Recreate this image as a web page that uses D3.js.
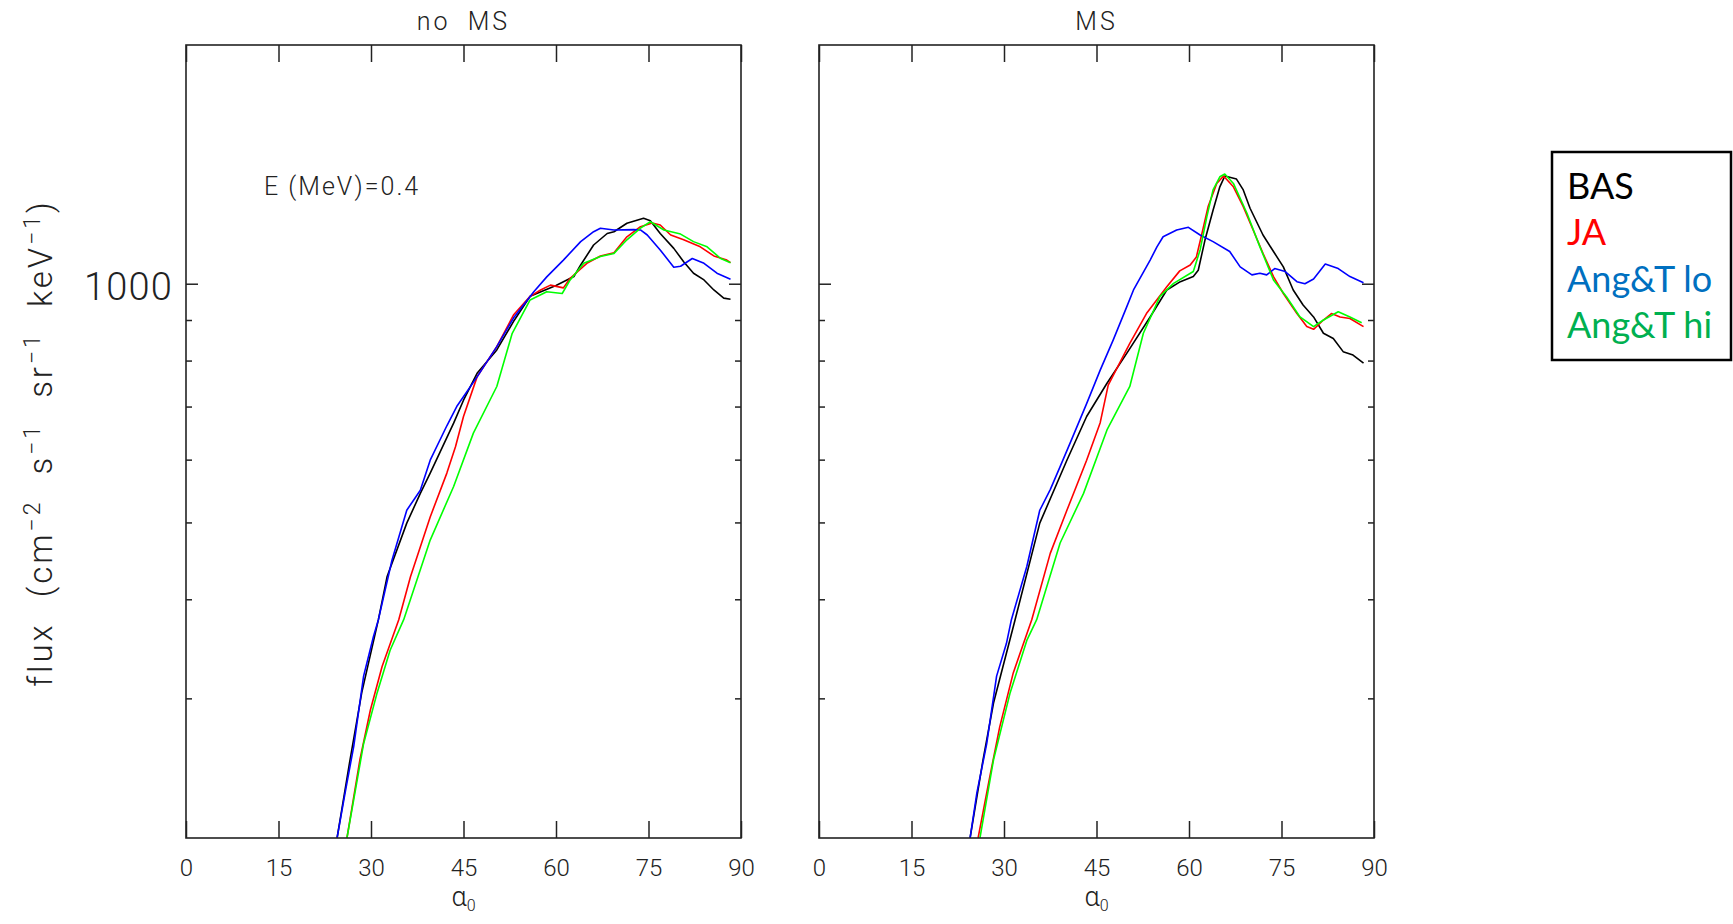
<!DOCTYPE html>
<html>
<head>
<meta charset="utf-8">
<script src="https://cdn.jsdelivr.net/npm/d3@7"></script>
<style>
  body { margin: 0; background: #fff; }
  svg { display: block; }
</style>
</head>
<body>
<div id="chart"></div>
<script>
// [pitch angle alpha0 (deg), flux], E = 0.4 MeV
const noMsBAS = [[24.5,200],[26.6,251],[28.5,305],[31.2,377],[32.6,427],[35.8,499],[38.0,544],[39.6,577],[43.4,667],[45.0,713],[47.2,771],[50.4,825],[53.1,896],[55.8,964],[60.0,995],[62.9,1021],[64.0,1056],[66.1,1119],[68.3,1157],[69.4,1163],[71.5,1192],[74.2,1209],[75.3,1201],[76.9,1157],[79.1,1108],[80.7,1066],[82.3,1031],[84.0,1011],[85.6,982],[87.2,959],[88.3,956]];
const noMsJA = [[26.1,200],[28.2,251],[29.9,290],[31.8,329],[34.5,377],[36.4,427],[39.6,508],[42.3,577],[43.7,623],[45.0,680],[47.2,763],[50.4,833],[53.1,913],[55.8,964],[57.5,982],[59.1,996],[61.2,988],[62.3,1016],[65.0,1061],[67.2,1084],[69.4,1094],[71.5,1146],[73.7,1180],[75.6,1193],[76.9,1186],[78.6,1152],[80.7,1136],[83.4,1113],[85.6,1084],[87.7,1071],[88.3,1063]];
const noMsLo = [[24.5,200],[25.8,228],[27.2,261],[28.8,320],[30.4,359],[31.2,377],[33.4,448],[35.8,518],[38.0,549],[39.6,599],[42.3,662],[43.9,700],[47.2,763],[50.4,833],[53.1,905],[56.4,977],[58.5,1020],[61.2,1071],[64.0,1130],[66.1,1163],[67.2,1175],[69.4,1169],[72.6,1170],[73.7,1169],[74.8,1152],[76.9,1103],[79.1,1049],[80.2,1052],[82.1,1076],[84.0,1061],[86.1,1031],[88.3,1013]];
const noMsHi = [[26.1,200],[28.8,263],[31.0,305],[33.1,345],[35.3,377],[39.6,475],[43.4,555],[46.6,648],[50.4,742],[52.9,866],[55.8,954],[58.5,977],[61.0,972],[62.3,1011],[64.5,1061],[67.2,1082],[69.4,1092],[71.5,1136],[73.7,1175],[75.3,1197],[77.5,1169],[80.2,1155],[82.3,1130],[84.5,1113],[86.7,1076],[88.3,1063]];

const msBAS = [[24.5,200],[26.6,251],[28.3,296],[31.8,377],[35.8,499],[40.2,599],[43.4,680],[46.7,749],[49.9,817],[53.7,908],[56.4,982],[58.6,1006],[60.7,1021],[61.5,1040],[62.6,1136],[63.9,1238],[65.0,1325],[65.8,1367],[67.7,1355],[68.8,1313],[69.9,1245],[72.0,1152],[73.7,1098],[75.3,1050],[76.9,982],[78.5,940],[80.2,908],[81.8,866],[83.4,853],[85.0,821],[86.6,813],[88.3,794]];
const msJA = [[25.8,200],[27.7,239],[29.3,276],[31.5,323],[34.5,377],[37.5,457],[40.2,518],[43.4,599],[45.6,668],[46.9,745],[50.4,841],[53.1,917],[56.4,991],[58.5,1038],[60.2,1056],[61.2,1081],[62.1,1157],[63.1,1251],[64.5,1338],[65.6,1367],[67.2,1325],[68.8,1251],[70.4,1169],[72.0,1092],[73.7,1021],[75.3,972],[77.5,917],[79.1,883],[80.2,876],[81.8,900],[83.1,917],[84.5,908],[86.1,904],[88.3,883]];
const msLo = [[24.5,200],[25.6,228],[27.2,263],[28.8,320],[30.4,352],[31.2,377],[33.7,440],[35.8,518],[37.5,550],[39.1,588],[40.7,629],[43.4,706],[45.6,778],[47.7,849],[49.9,935],[51.0,982],[53.7,1071],[54.8,1113],[55.8,1146],[58.0,1169],[59.9,1178],[61.8,1152],[63.9,1130],[66.6,1098],[68.3,1050],[70.2,1026],[71.5,1031],[72.6,1026],[73.9,1045],[75.6,1036],[77.5,1006],[78.8,1000],[80.2,1014],[82.1,1059],[84.2,1045],[86.1,1021],[88.3,1003]];
const msHi = [[26.1,200],[28.3,251],[31.0,305],[33.7,355],[35.3,377],[39.1,471],[42.9,544],[46.7,654],[50.4,742],[52.6,866],[55.3,964],[57.5,1001],[60.7,1036],[61.8,1103],[62.9,1215],[63.9,1313],[65.0,1364],[65.8,1375],[67.2,1338],[69.4,1227],[71.5,1113],[73.7,1011],[75.8,963],[78.0,908],[80.2,883],[81.8,900],[84.2,922],[86.1,908],[88.0,893]];

const seriesNames = ['BAS', 'JA', 'Ang&T lo', 'Ang&T hi'];
const lineColors = ['#000000', '#ff0000', '#0000ff', '#00ff00'];
const legendColors = ['#000000', '#ff0000', '#0070c0', '#00b050'];
const panelTitles = ['no MS', 'MS'];
const panelData = [[noMsBAS, noMsJA, noMsLo, noMsHi], [msBAS, msJA, msLo, msHi]];
const xTicks = [0, 15, 30, 45, 60, 75, 90];
const yMinorTicks = [300, 400, 500, 600, 700, 800, 900];
const yMajorTicks = [1000];

const idlFont = "Roboto, 'DejaVu Sans', sans-serif";

function styleAxis(g, fontSize) {
  g.select('.domain').remove();
  g.selectAll('line').attr('stroke', '#222').attr('stroke-width', 1.5);
  g.selectAll('text')
    .attr('fill', '#222')
    .attr('font-family', idlFont)
    .attr('font-weight', 300)
    .attr('font-size', fontSize);
}

function createChart() {
  const width = 1733;
  const height = 924;
  const panelLeft = [186, 819];
  const panelW = 555;
  const top = 45;
  const bottom = 838;

  const svg = d3.select('#chart')
    .append('svg')
    .attr('width', width)
    .attr('height', height);

  panelData.forEach((series, i) => {
    const g = svg.append('g').attr('transform', `translate(${panelLeft[i]},0)`);

    const x = d3.scaleLinear().domain([0, 90]).range([0, panelW]);
    const y = d3.scaleLog().domain([200, 2000]).range([bottom, top]);

    g.append('clipPath').attr('id', 'clip' + i)
      .append('rect')
      .attr('x', 0).attr('y', top)
      .attr('width', panelW).attr('height', bottom - top);

    const line = d3.line().x((d) => x(d[0])).y((d) => y(d[1]));

    g.append('g')
      .attr('clip-path', `url(#clip${i})`)
      .selectAll('path')
      .data(series)
      .join('path')
      .attr('d', line)
      .attr('fill', 'none')
      .attr('stroke', (d, k) => lineColors[k])
      .attr('stroke-width', 1.6)
      .attr('stroke-linejoin', 'round');

    // bottom axis with labels, ticks pointing in
    g.append('g')
      .attr('transform', `translate(0,${bottom})`)
      .call(d3.axisBottom(x).tickValues(xTicks).tickSize(-17).tickPadding(21))
      .call((a) => styleAxis(a, 24));

    g.append('g')
      .attr('transform', `translate(0,${top})`)
      .call(d3.axisTop(x).tickValues(xTicks).tickSize(-17).tickFormat(''))
      .call((a) => styleAxis(a, 24));

    // y ticks: minor short, 1000 long
    g.append('g')
      .call(d3.axisLeft(y).tickValues(yMinorTicks).tickSize(-6).tickFormat(''))
      .call((a) => styleAxis(a, 36));
    g.append('g')
      .call(d3.axisLeft(y).tickValues(yMajorTicks).tickSize(-12).tickPadding(13)
        .tickFormat(i === 0 ? d3.format('d') : ''))
      .call((a) => styleAxis(a, 38))
      .call((a) => a.selectAll('text').attr('dy', '0.42em').attr('letter-spacing', 1.2));
    g.append('g')
      .attr('transform', `translate(${panelW},0)`)
      .call(d3.axisRight(y).tickValues(yMinorTicks).tickSize(-6).tickFormat(''))
      .call((a) => styleAxis(a, 36));
    g.append('g')
      .attr('transform', `translate(${panelW},0)`)
      .call(d3.axisRight(y).tickValues(yMajorTicks).tickSize(-12).tickFormat(''))
      .call((a) => styleAxis(a, 36));

    g.append('rect')
      .attr('x', 0).attr('y', top)
      .attr('width', panelW).attr('height', bottom - top)
      .attr('fill', 'none')
      .attr('stroke', '#222')
      .attr('stroke-width', 1.6);

    g.append('text')
      .attr('x', panelW / 2).attr('y', 30)
      .attr('text-anchor', 'middle')
      .attr('font-family', idlFont).attr('font-weight', 300)
      .attr('font-size', 25).attr('letter-spacing', 3).attr('word-spacing', 8)
      .attr('fill', '#222')
      .text(panelTitles[i]);

    const xl = g.append('text')
      .attr('x', panelW / 2).attr('y', 906)
      .attr('text-anchor', 'middle')
      .attr('font-family', idlFont).attr('font-weight', 300)
      .attr('font-size', 27).attr('fill', '#222');
    xl.append('tspan').text('α');
    xl.append('tspan').attr('font-size', 16).attr('dy', 5).text('0');

    if (i === 0) {
      g.append('text')
        .attr('x', 78).attr('y', 195)
        .attr('font-family', idlFont).attr('font-weight', 300)
        .attr('font-size', 25).attr('letter-spacing', 2)
        .attr('fill', '#222')
        .text('E (MeV)=0.4');
    }
  });

  // y axis title
  const yl = svg.append('text')
    .attr('transform', 'translate(40,443) rotate(-90)')
    .attr('text-anchor', 'middle')
    .attr('font-family', idlFont).attr('font-weight', 300)
    .attr('font-size', 33).attr('word-spacing', 14).attr('letter-spacing', 3)
    .attr('fill', '#222');
  const parts = [['flux (cm', '−2'], [' s', '−1'], [' sr', '−1'], [' keV', '−1'], [')', null]];
  parts.forEach(([base, sup]) => {
    yl.append('tspan').attr('dy', yl.selectAll('tspan').size() ? 12 : 0).text(base);
    if (sup) yl.append('tspan').attr('font-size', 23).attr('dy', -12).text(sup);
  });

  // legend box
  const legend = svg.append('g');
  legend.append('rect')
    .attr('x', 1552).attr('y', 152)
    .attr('width', 179).attr('height', 208)
    .attr('fill', '#fff')
    .attr('stroke', '#000')
    .attr('stroke-width', 2.5);
  legend.selectAll('text')
    .data(seriesNames)
    .join('text')
    .attr('x', 1567)
    .attr('y', (d, k) => 199 + k * 46.3)
    .attr('font-family', "Lato, 'Open Sans', sans-serif")
    .attr('font-size', 36)
    .attr('fill', (d, k) => legendColors[k])
    .text((d) => d);
}

document.addEventListener('DOMContentLoaded', createChart);
</script>
</body>
</html>
